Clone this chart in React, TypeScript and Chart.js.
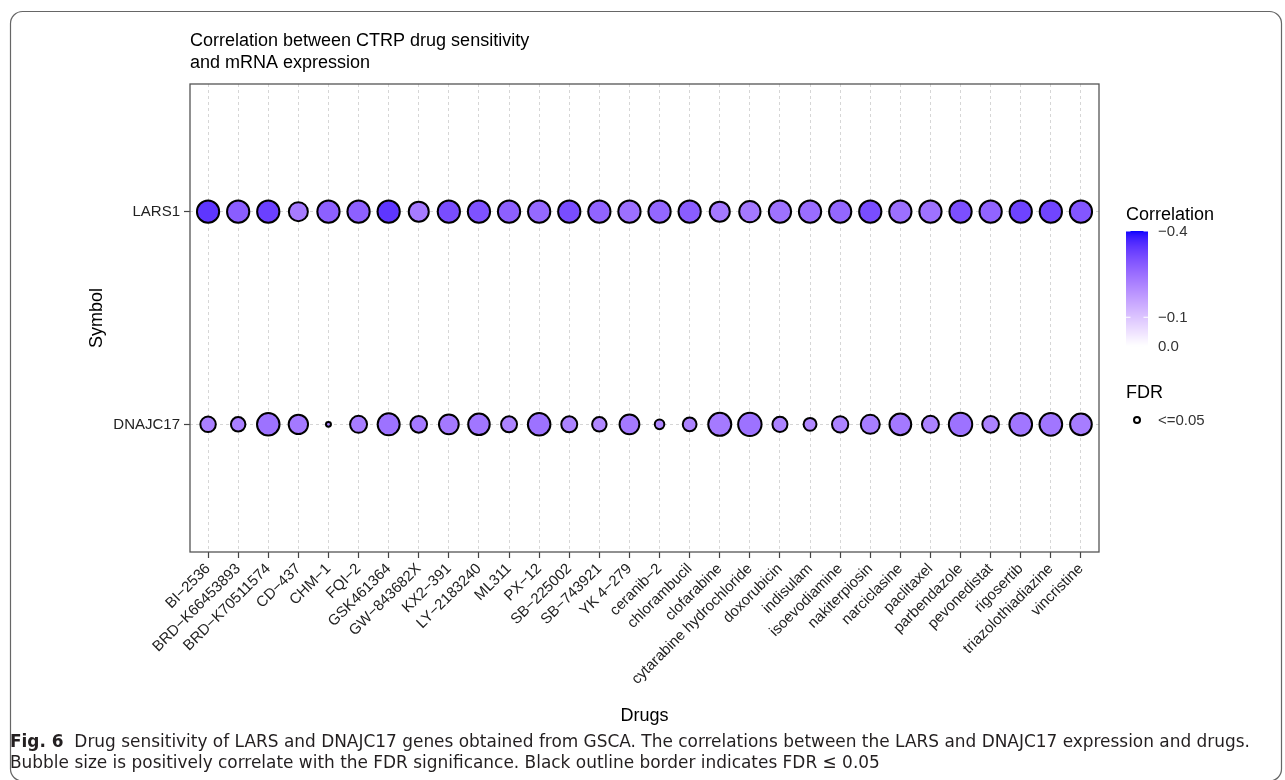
import React, { useEffect, useRef } from "react";
import { Chart, registerables } from "chart.js";

Chart.register(...registerables);

// ---------------- data ----------------
const drugs = [
  "BI-2536", "BRD-K66453893", "BRD-K70511574", "CD-437", "CHM-1", "FQI-2",
  "GSK461364", "GW-843682X", "KX2-391", "LY-2183240", "ML311", "PX-12",
  "SB-225002", "SB-743921", "YK 4-279", "ceranib-2", "chlorambucil", "clofarabine",
  "cytarabine hydrochloride", "doxorubicin", "indisulam", "isoevodiamine",
  "nakiterpiosin", "narciclasine", "paclitaxel", "parbendazole", "pevonedistat",
  "rigosertib", "triazolothiadiazine", "vincristine",
];

// y index 0 = DNAJC17, 1 = LARS1
const symbols = ["DNAJC17", "LARS1"];

const larsCorrelation = [
  -0.344, -0.28, -0.328, -0.228, -0.276, -0.276, -0.344, -0.228, -0.308, -0.3,
  -0.276, -0.26, -0.308, -0.268, -0.248, -0.264, -0.28, -0.232, -0.232, -0.244,
  -0.252, -0.264, -0.308, -0.248, -0.244, -0.304, -0.268, -0.324, -0.32, -0.292,
];
// -log10(FDR)
const larsFdrSig = [
  28, 28, 28, 20.5, 28, 28, 28, 22.7, 28, 28,
  28, 28, 28, 28, 28, 28, 28, 22.7, 25.7, 28,
  28, 28, 28, 28, 28, 28, 28, 28, 28, 28,
];

const dnajc17Correlation = [
  -0.22, -0.22, -0.245, -0.232, -0.21, -0.225, -0.245, -0.232, -0.232, -0.238,
  -0.215, -0.245, -0.215, -0.205, -0.232, -0.21, -0.215, -0.23, -0.245, -0.215,
  -0.205, -0.215, -0.225, -0.232, -0.215, -0.245, -0.215, -0.238, -0.238, -0.225,
];
const dnajc17FdrSig = [
  13.6, 11.9, 28.7, 21.3, 1.4, 16.4, 27.4, 15.6, 22.2, 26.2,
  14.5, 28.7, 14.5, 11.9, 22.2, 5.2, 10.8, 30, 31, 12.8,
  9.4, 15.1, 20.5, 26.7, 16.4, 31, 15.6, 29.2, 29.2, 26.7,
];

const colorLimit = -0.4;
const colorbarTicks = [-0.4, -0.1, 0.0];
const fdrLegendLabels = ["<=0.05"];

const titleLines = ["Correlation between CTRP drug sensitivity", "and mRNA expression"];
const xTitle = "Drugs";
const yTitle = "Symbol";
const captionBold = "Fig. 6";
const captionLine1 =
  "  Drug sensitivity of LARS and DNAJC17 genes obtained from GSCA. The correlations between the LARS and DNAJC17 expression and drugs.";
const captionLine2 =
  "Bubble size is positively correlate with the FDR significance. Black outline border indicates FDR \u2264 0.05";

// ---------------- helpers ----------------
const FONT = "'Liberation Sans', Arial, Helvetica, sans-serif";
const CAP_FONT = "'Liberation Sans Narrow', 'DejaVu Sans Condensed', 'Liberation Sans', sans-serif";

function labToRgb(L: number, a: number, b: number): string {
  const fy = (L + 16) / 116;
  const fx = fy + a / 500;
  const fz = fy - b / 200;
  const inv = (f: number) => (f * f * f > 0.008856 ? f * f * f : (f - 16 / 116) / 7.787);
  const X = 0.95047 * inv(fx);
  const Y = 1.0 * inv(fy);
  const Z = 1.08883 * inv(fz);
  const r = 3.2406 * X - 1.5372 * Y - 0.4986 * Z;
  const g = -0.9689 * X + 1.8758 * Y + 0.0415 * Z;
  const bl = 0.0557 * X - 0.204 * Y + 1.057 * Z;
  const gam = (c: number) => {
    c = Math.max(0, Math.min(1, c));
    return c <= 0.0031308 ? 12.92 * c : 1.055 * Math.pow(c, 1 / 2.4) - 0.055;
  };
  return `rgb(${Math.round(gam(r) * 255)},${Math.round(gam(g) * 255)},${Math.round(gam(bl) * 255)})`;
}

function corrColor(c: number): string {
  const t = Math.max(0, Math.min(1, c / colorLimit));
  // white (100,0,0) -> blue (32.3, 79.19, -107.86) in Lab
  const L = 100 + (32.3 - 100) * t;
  const a = 79.19 * t;
  const b = -107.86 * t;
  return labToRgb(L, a, b);
}

function radiusFromFdr(v: number): number {
  return 2.1 * Math.sqrt(v);
}

const toMinus = (s: string) => s.replace(/-/g, "\u2212");

// ---------------- decoration plugin ----------------
const decor = {
  id: "decor",
  beforeDraw(chart: any) {
    const ctx = chart.ctx;
    ctx.save();
    ctx.fillStyle = "#ffffff";
    ctx.fillRect(0, 0, chart.width, chart.height);
    ctx.restore();
  },
  beforeDatasetsDraw(chart: any) {
    const { ctx, chartArea } = chart;
    ctx.save();
    ctx.strokeStyle = "#555555";
    ctx.lineWidth = 1.3;
    ctx.strokeRect(chartArea.left, chartArea.top, chartArea.right - chartArea.left, chartArea.bottom - chartArea.top);
    ctx.restore();
  },
  afterDraw(chart: any) {
    const { ctx, chartArea } = chart;
    ctx.save();

    // plot title
    ctx.fillStyle = "#000";
    ctx.font = `18px ${FONT}`;
    ctx.textAlign = "left";
    ctx.textBaseline = "alphabetic";
    ctx.fillText(titleLines[0], chartArea.left, 46);
    ctx.fillText(titleLines[1], chartArea.left, 68);

    // axis titles
    ctx.font = `18px ${FONT}`;
    ctx.textAlign = "center";
    ctx.textBaseline = "middle";
    ctx.fillText(xTitle, (chartArea.left + chartArea.right) / 2, 716);
    ctx.save();
    ctx.translate(97, (chartArea.top + chartArea.bottom) / 2);
    ctx.rotate(-Math.PI / 2);
    ctx.fillText(yTitle, 0, 0);
    ctx.restore();

    // colour legend
    const barX = 1126, barW = 22, barTop = 231, barBot = 346;
    ctx.textAlign = "left";
    ctx.textBaseline = "alphabetic";
    ctx.font = `18px ${FONT}`;
    ctx.fillText("Correlation", barX, 220);
    const steps = 115;
    for (let i = 0; i < steps; i++) {
      const y0 = barTop + ((barBot - barTop) * i) / steps;
      const v = colorLimit * (1 - (i + 0.5) / steps);
      ctx.fillStyle = corrColor(v);
      ctx.fillRect(barX, y0, barW, (barBot - barTop) / steps + 0.6);
    }
    const yOf = (v: number) => barBot + (v / colorLimit) * (barTop - barBot);
    ctx.strokeStyle = "#ffffff";
    ctx.lineWidth = 1;
    ctx.font = `15px ${FONT}`;
    ctx.textBaseline = "middle";
    ctx.fillStyle = "#333";
    for (const t of colorbarTicks) {
      const y = yOf(t);
      ctx.beginPath();
      ctx.moveTo(barX, y);
      ctx.lineTo(barX + 4.5, y);
      ctx.moveTo(barX + barW - 4.5, y);
      ctx.lineTo(barX + barW, y);
      ctx.stroke();
      ctx.fillText(t === 0 ? "0.0" : toMinus(t.toFixed(1)), 1158, y + 1);
    }

    // FDR legend
    ctx.fillStyle = "#000";
    ctx.font = `18px ${FONT}`;
    ctx.textBaseline = "alphabetic";
    ctx.fillText("FDR", barX, 398);
    ctx.beginPath();
    ctx.arc(1137, 420, 3, 0, Math.PI * 2);
    ctx.fillStyle = "#fff";
    ctx.fill();
    ctx.strokeStyle = "#000";
    ctx.lineWidth = 2;
    ctx.stroke();
    ctx.fillStyle = "#333";
    ctx.font = `15px ${FONT}`;
    ctx.textBaseline = "middle";
    ctx.fillText(fdrLegendLabels[0], 1158, 421);

    // caption
    const capSize = 18.5;
    ctx.textBaseline = "alphabetic";
    ctx.fillStyle = "#231f20";
    ctx.font = `bold ${capSize}px ${CAP_FONT}`;
    const wb = ctx.measureText(captionBold).width;
    ctx.font = `${capSize}px ${CAP_FONT}`;
    const w1 = ctx.measureText(captionLine1).width;
    const sx = 1240 / (wb + w1);
    ctx.save();
    ctx.translate(10, 747);
    ctx.scale(sx, 1);
    ctx.font = `bold ${capSize}px ${CAP_FONT}`;
    ctx.fillText(captionBold, 0, 0);
    ctx.font = `${capSize}px ${CAP_FONT}`;
    ctx.fillText(captionLine1, wb, 0);
    ctx.restore();
    ctx.save();
    ctx.translate(10, 768);
    ctx.scale(sx, 1);
    ctx.font = `${capSize}px ${CAP_FONT}`;
    ctx.fillText(captionLine2, 0, 0);
    ctx.restore();

    // outer rounded frame
    const fl = 10.5, ft = 11.5, fr = 1281.5, fb = 781, rad = 12;
    ctx.strokeStyle = "#666";
    ctx.lineWidth = 1.2;
    ctx.beginPath();
    ctx.moveTo(fl + rad, ft);
    ctx.lineTo(fr - rad, ft);
    ctx.arcTo(fr, ft, fr, ft + rad, rad);
    ctx.lineTo(fr, fb - rad);
    ctx.arcTo(fr, fb, fr - rad, fb, rad);
    ctx.lineTo(fl + rad, fb);
    ctx.arcTo(fl, fb, fl, fb - rad, rad);
    ctx.lineTo(fl, ft + rad);
    ctx.arcTo(fl, ft, fl + rad, ft, rad);
    ctx.stroke();

    ctx.restore();
  },
};

export default function App() {
  const ref = useRef<HTMLCanvasElement>(null);

  useEffect(() => {
    const canvas = ref.current;
    if (!canvas) return;

    const larsData = drugs.map((_, i) => ({ x: i, y: 1, r: radiusFromFdr(larsFdrSig[i]) }));
    const dnaData = drugs.map((_, i) => ({ x: i, y: 0, r: radiusFromFdr(dnajc17FdrSig[i]) }));

    const gridOpts = {
      color: "#d6d6d6",
      lineWidth: 1,
      drawTicks: true,
      tickLength: 6,
      tickColor: "#444",
      tickWidth: 1.2,
    };

    const chart = new Chart(canvas, {
      type: "bubble",
      data: {
        datasets: [
          {
            label: "LARS1",
            data: larsData,
            backgroundColor: larsCorrelation.map(corrColor),
            borderColor: "#000",
            borderWidth: 2,
          },
          {
            label: "DNAJC17",
            data: dnaData,
            backgroundColor: dnajc17Correlation.map(corrColor),
            borderColor: "#000",
            borderWidth: 2,
          },
        ],
      },
      options: {
        responsive: false,
        animation: false,
        events: [],
        layout: { padding: { left: 0, top: 84, right: 186, bottom: 78 } },
        plugins: { legend: { display: false }, tooltip: { enabled: false }, title: { display: false } },
        scales: {
          x: {
            type: "linear",
            min: -0.6,
            max: 29.6,
            afterBuildTicks: (s: any) => {
              s.ticks = drugs.map((_, i) => ({ value: i }));
            },
            afterFit: (s: any) => {
              s.height = 150;
            },
            ticks: {
              autoSkip: false,
              minRotation: 45,
              maxRotation: 45,
              padding: 2,
              color: "#222",
              font: { size: 15, family: FONT },
              callback: (v: any) => toMinus(drugs[Math.round(Number(v))] ?? ""),
            },
            grid: gridOpts,
            border: { display: false, dash: [3, 3] },
          },
          y: {
            type: "linear",
            min: -0.6,
            max: 1.6,
            afterBuildTicks: (s: any) => {
              s.ticks = symbols.map((_, i) => ({ value: i }));
            },
            afterFit: (s: any) => {
              s.width = 190;
            },
            ticks: {
              padding: 4,
              color: "#222",
              font: { size: 15, family: FONT },
              callback: (v: any) => symbols[Math.round(Number(v))] ?? "",
            },
            grid: gridOpts,
            border: { display: false, dash: [3, 3] },
          },
        },
      },
      plugins: [decor],
    } as any);

    return () => chart.destroy();
  }, []);

  return (
    <div style={{ position: "fixed", left: 0, top: 0, width: 1285, height: 780, background: "#fff" }}>
      <canvas ref={ref} width={1285} height={780} style={{ display: "block", width: 1285, height: 780 }} />
    </div>
  );
}
